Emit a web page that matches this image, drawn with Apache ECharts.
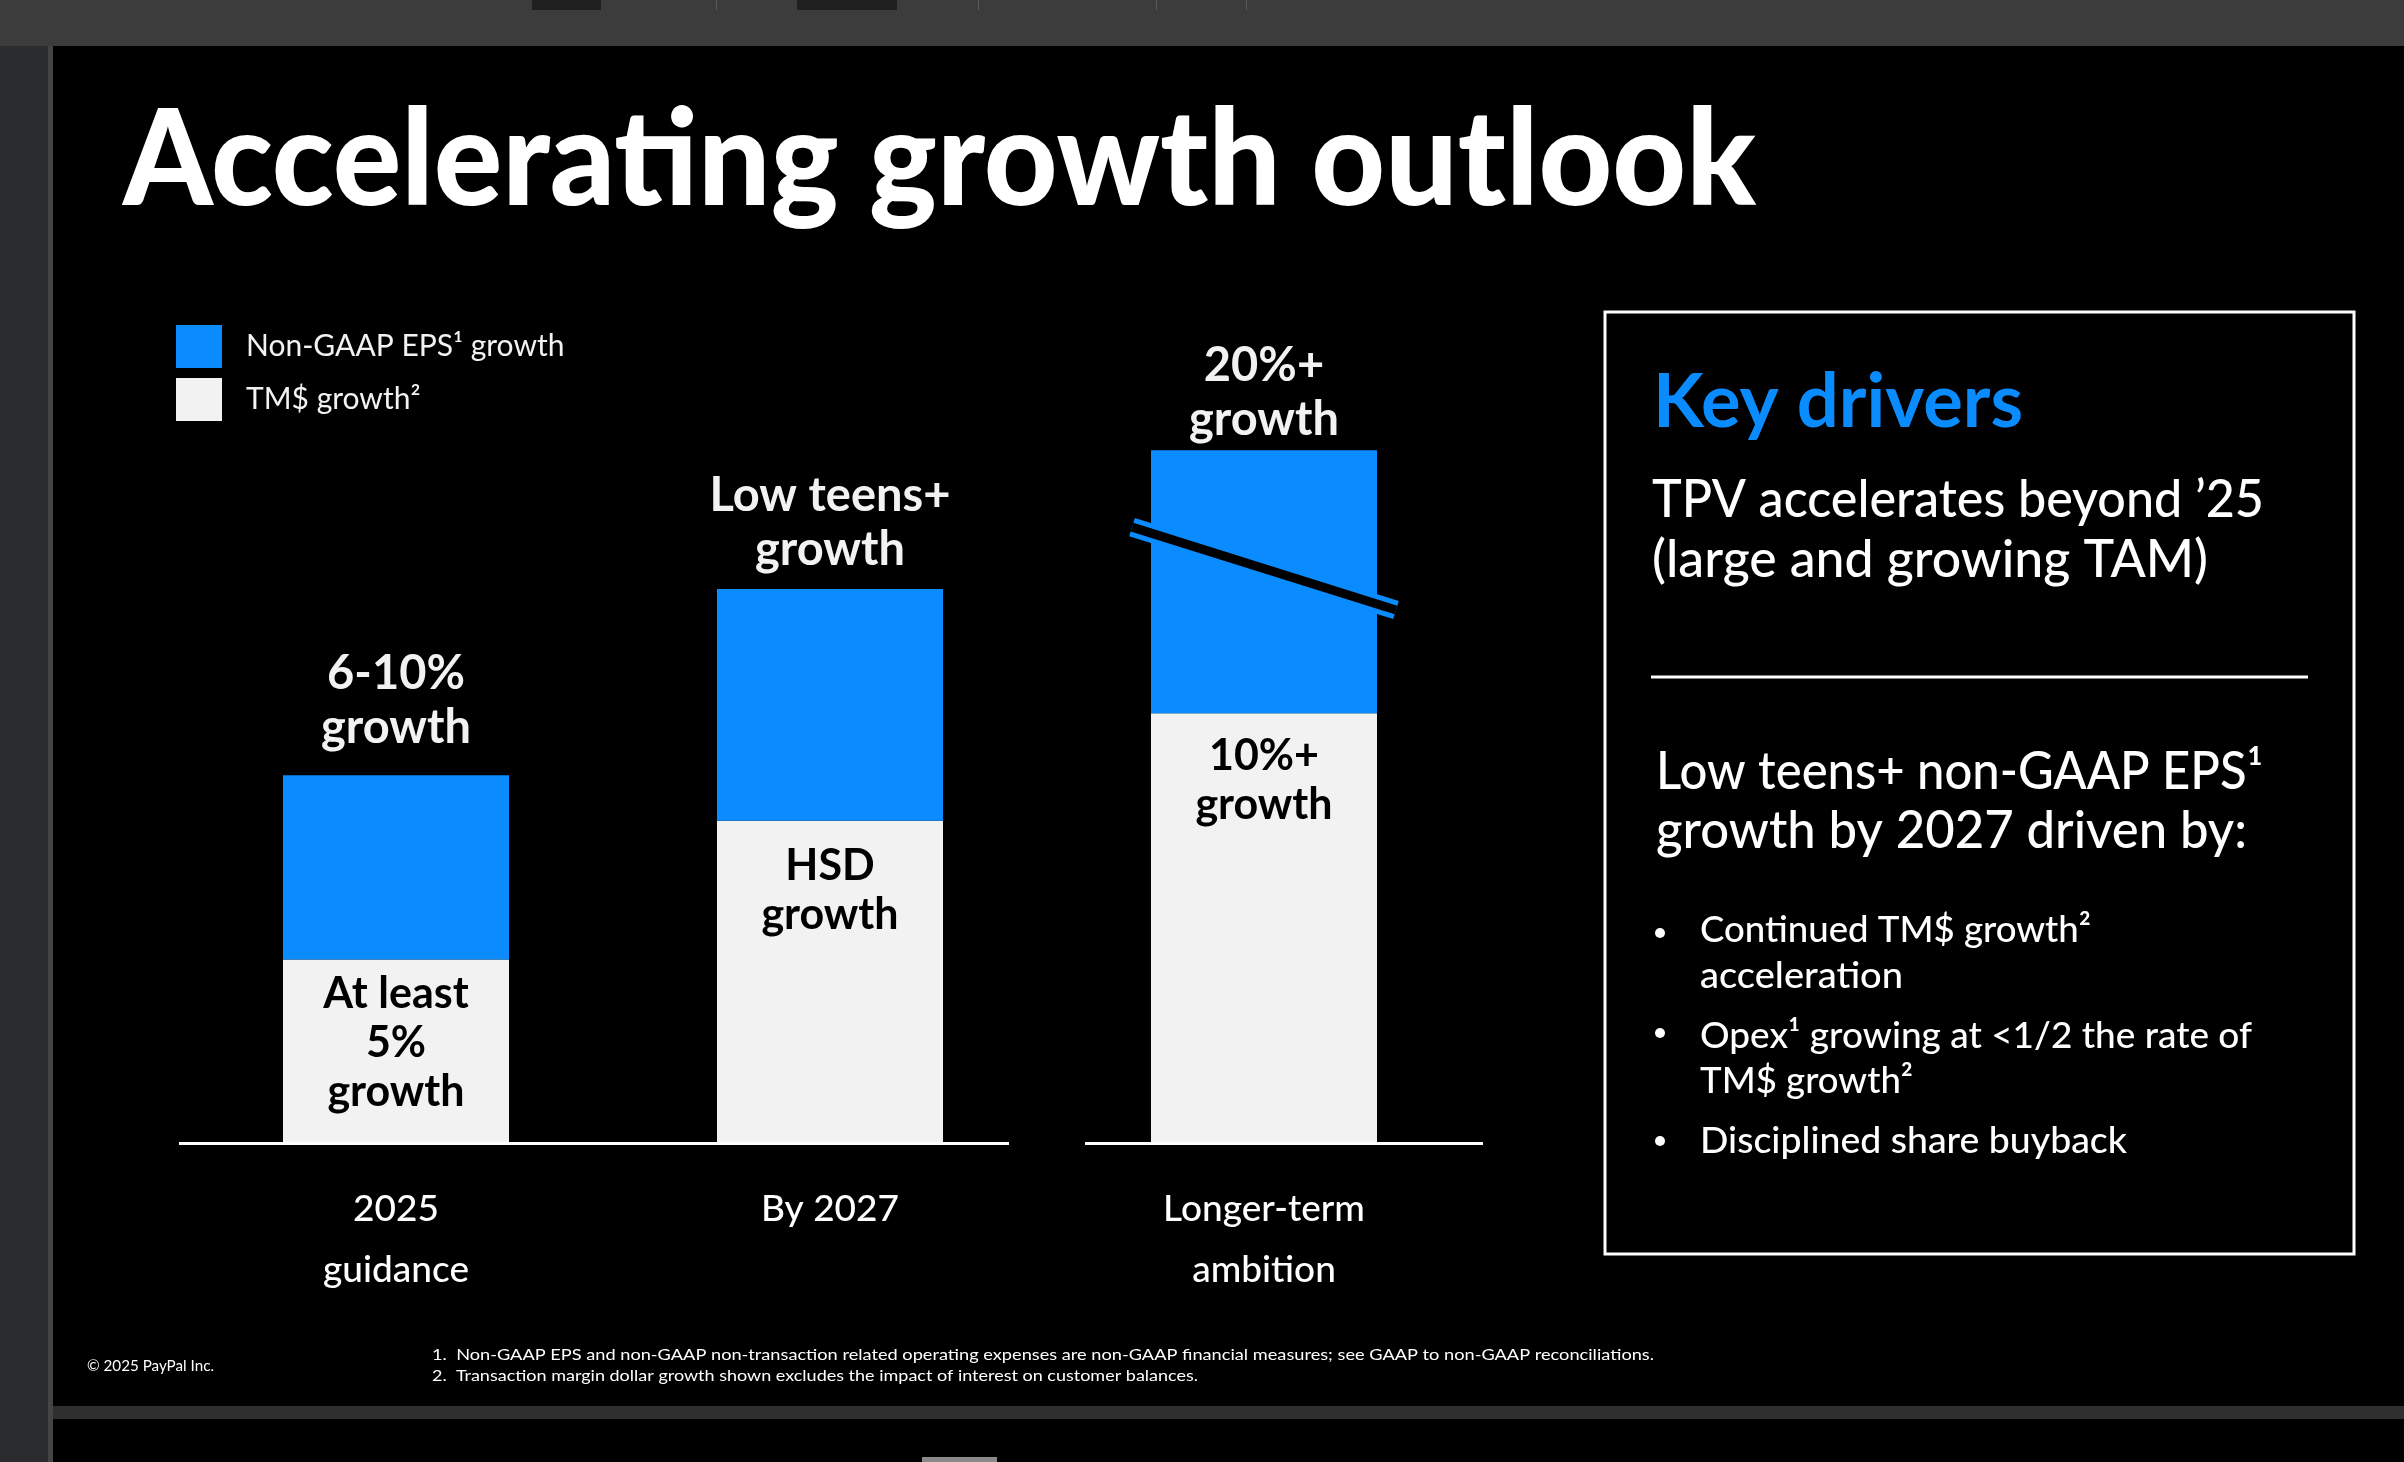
<!DOCTYPE html>
<html>
<head>
<meta charset="utf-8">
<script src="https://cdn.jsdelivr.net/npm/echarts@6/dist/echarts.min.js"></script>
<style>
html,body{margin:0;padding:0;background:#000;}
#c{width:2404px;height:1462px;}
</style>
</head>
<body>
<div id="c"></div>
<script>
// ---------------- data ----------------
const categories = ['2025\nguidance', 'By 2027', 'Longer-term\nambition'];
const tmValues = [5.0, 8.8, 11.75];     // TM$ growth (white, bottom segment)
const epsValues = [5.05, 6.35, 7.2];    // Non-GAAP EPS growth (blue, top segment)
const tmLabels = ['At least\n5%\ngrowth', 'HSD\ngrowth', '10%+\ngrowth'];
const epsLabels = ['6-10%\ngrowth', 'Low teens+\ngrowth', '20%+\ngrowth'];
const seriesNames = ['Non-GAAP EPS\u00b9 growth', 'TM$ growth\u00b2'];

// ---------------- styles ----------------
const FONT = 'Lato, "Open Sans", "DejaVu Sans", sans-serif';
const BLUE = '#0a8cff';
const OFFWHITE = '#f2f2f2';
const tmLabelDist = [10, 21, 18];
const epsLabelDist = [20, 12, 3];
const BREAK_FRAC = 0.55;

const chart = echarts.init(document.getElementById('c'), null, {renderer: 'canvas'});

const mctx = document.createElement('canvas').getContext('2d');
function textW(t, weight, size) {
  mctx.font = weight + ' ' + size + 'px ' + FONT;
  return mctx.measureText(t).width;
}
const MID = 0.31;
function txt(t, left, baseline, size, weight, color, target) {
  const w = textW(t, weight, size);
  return {
    type: 'text', x: left, y: baseline - MID * size,
    scaleX: target ? target / w : 1, z: 100, silent: true,
    style: {text: t, x: 0, y: 0, fill: color, fontSize: size, fontWeight: weight,
            fontFamily: FONT, verticalAlign: 'middle', align: 'left'}
  };
}
function rect(x, y, w, h, fill, z) {
  return {type: 'rect', shape: {x: x, y: y, width: w, height: h}, style: {fill: fill}, z: z || 1, silent: true};
}
function line(x1, y1, x2, y2, color, width, z) {
  return {type: 'line', shape: {x1: x1, y1: y1, x2: x2, y2: y2},
          style: {stroke: color, lineWidth: width, lineCap: 'butt'}, z: z || 100, silent: true};
}

chart.setOption({
  backgroundColor: '#000',
  animation: false,
  grid: {left: 179, top: 412, width: 1302, height: 730},
  legend: {
    data: seriesNames, orient: 'vertical', left: 176, top: 325, padding: 0,
    itemWidth: 46, itemHeight: 43, itemGap: 10, icon: 'rect', selectedMode: false,
    textStyle: {color: OFFWHITE, fontSize: 30, fontFamily: FONT, padding: [0, 0, 0, 19]}
  },
  xAxis: {
    type: 'category', data: categories,
    axisLine: {show: false}, axisTick: {show: false},
    axisLabel: {color: '#ffffff', fontSize: 37, fontWeight: 500, fontFamily: FONT, lineHeight: 61, margin: 37}
  },
  yAxis: {type: 'value', min: 0, max: 20, show: false},
  series: [
    {
      name: seriesNames[1], type: 'bar', stack: 'g', barWidth: 226,
      itemStyle: {color: OFFWHITE},
      emphasis: {disabled: true},
      label: {show: true, position: 'insideTop', color: '#000', fontSize: 43, fontWeight: 'bold',
              lineHeight: 49, fontFamily: FONT},
      data: tmValues.map((v, i) => ({value: v, label: {formatter: tmLabels[i], distance: tmLabelDist[i]}}))
    },
    {
      name: seriesNames[0], type: 'bar', stack: 'g', barWidth: 226,
      itemStyle: {color: BLUE},
      emphasis: {disabled: true},
      label: {show: true, position: 'top', color: OFFWHITE, fontSize: 47, fontWeight: 'bold',
              lineHeight: 54, fontFamily: FONT},
      data: epsValues.map((v, i) => ({value: v, label: {formatter: epsLabels[i], distance: epsLabelDist[i]}}))
    }
  ]
});

// ---------------- computed decorations ----------------
const c0 = chart.convertToPixel({gridIndex: 0}, [0, 0]);
const c1 = chart.convertToPixel({gridIndex: 0}, [1, 0]);
const c2 = chart.convertToPixel({gridIndex: 0}, [2, 0]);
const band = c1[0] - c0[0];
const gLeft = c0[0] - band / 2, gRight = c2[0] + band / 2;
const baseY = c0[1] + 1.5;
const gapC = (c1[0] + c2[0]) / 2;
const brk = chart.convertToPixel({gridIndex: 0}, [2, tmValues[2] + epsValues[2] * BREAK_FRAC]);
const halfLen = 132, slope = 0.314;

const g = [];
// window chrome
g.push(rect(0, 0, 2404, 46, '#3c3c3c', 1));
g.push(rect(532, 0, 69, 10, '#1f1f1f', 2));
g.push(rect(797, 0, 100, 10, '#1f1f1f', 2));
[716, 978, 1156, 1246].forEach(x => g.push(rect(x, 0, 1, 10, '#5a5a5a', 2)));
g.push(rect(0, 46, 48, 1416, '#2b2c2e', 1));
g.push(rect(48, 46, 5, 1416, '#444444', 1));
g.push(rect(53, 1406, 2351, 13, '#2f2f2f', 1));
g.push(rect(922, 1457, 75, 5, '#8a8a8a', 2));

// title
g.push(txt('Accelerating growth outlook', 123, 203, 133, 900, '#ffffff', 1633));

// baselines
g.push(line(gLeft, baseY, gapC - 38, baseY, '#ffffff', 3));
g.push(line(gapC + 38, baseY, gRight + 2, baseY, '#ffffff', 3));

// break mark on third bar
g.push(line(brk[0] - halfLen, brk[1] - halfLen * slope, brk[0] + halfLen, brk[1] + halfLen * slope, BLUE, 19, 110));
g.push(line(brk[0] - halfLen, brk[1] - halfLen * slope, brk[0] + halfLen, brk[1] + halfLen * slope, '#000000', 9, 111));

// key drivers panel
g.push({type: 'rect', shape: {x: 1605, y: 312, width: 749, height: 942},
        style: {fill: 'none', stroke: '#ffffff', lineWidth: 3}, z: 100, silent: true});
g.push(txt('Key drivers', 1653, 426, 74, 'bold', BLUE, 370));
g.push(txt('TPV accelerates beyond \u201925', 1652, 516, 52, 500, '#ffffff', 612));
g.push(txt('(large and growing TAM)', 1652, 576, 52, 500, '#ffffff', 556));
g.push(line(1651, 677, 2308, 677, '#ffffff', 3));
g.push(txt('Low teens+ non-GAAP EPS\u00b9', 1656, 788, 52, 500, '#ffffff', 607));
g.push(txt('growth by 2027 driven by:', 1656, 847, 52, 500, '#ffffff', 591));
[[933], [1033], [1141]].forEach(r => g.push({type: 'circle', shape: {cx: 1660, cy: r[0], r: 5},
  style: {fill: '#ffffff'}, z: 100, silent: true}));
g.push(txt('Continued TM$ growth\u00b2', 1700, 942, 37, 500, '#ffffff', 391));
g.push(txt('acceleration', 1700, 988, 37, 500, '#ffffff', 203));
g.push(txt('Opex\u00b9 growing at <1/2 the rate of', 1700, 1048, 37, 500, '#ffffff', 552));
g.push(txt('TM$ growth\u00b2', 1700, 1093, 37, 500, '#ffffff', 213));
g.push(txt('Disciplined share buyback', 1700, 1153, 37, 500, '#ffffff', 427));

// footnotes
g.push(txt('\u00a9 2025 PayPal Inc.', 87, 1371, 15, 'normal', '#ffffff', 127));
g.push(txt('1.  Non-GAAP EPS and non-GAAP non-transaction related operating expenses are non-GAAP financial measures; see GAAP to non-GAAP reconciliations.', 432, 1360, 15, 'normal', '#ffffff', 1222));
g.push(txt('2.  Transaction margin dollar growth shown excludes the impact of interest on customer balances.', 432, 1381, 15, 'normal', '#ffffff', 766));

chart.setOption({graphic: g});
</script>
</body>
</html>
